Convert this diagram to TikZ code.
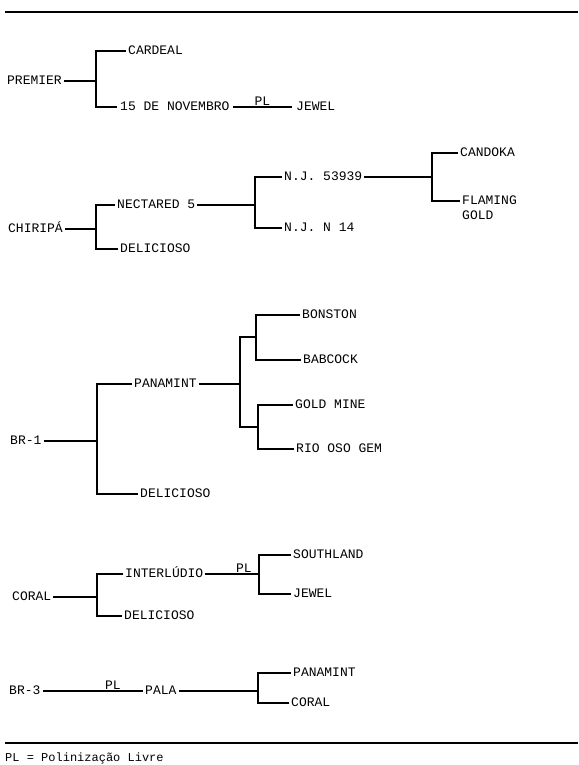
\documentclass[tikz,border=0pt]{standalone}
\usepackage{fontspec}
\setmainfont{Liberation Mono}
\begin{document}
\begin{tikzpicture}[x=1pt,y=-1pt,
  lbl/.style={anchor=west,inner xsep=2pt,inner ysep=0pt,text height=7.5pt,text depth=0pt,font=\fontsize{13}{15}\selectfont},
  pl/.style={anchor=south,inner sep=1pt,font=\fontsize{13}{15}\selectfont},
  ln/.style={line width=1.2pt}]
\useasboundingbox (0,0) rectangle (578,765);
% rules
\coordinate (tl) at (5,12); \coordinate (tr) at (578,12);
\coordinate (bl) at (5,743); \coordinate (br) at (578,743);
\draw[ln] (tl) -- (tr);
\draw[ln] (bl) -- (br);
\node[anchor=west,inner sep=0pt,font=\fontsize{12}{14}\selectfont] (foot) at (5,758) {PL = Polinização Livre};

% PREMIER
\node[lbl] (premier) at (5,81) {PREMIER};
\node[lbl] (cardeal) at (126,51) {CARDEAL};
\node[lbl,inner xsep=3pt] (nov) at (117,107) {15 DE NOVEMBRO};
\node[lbl,inner xsep=4pt] (jewelA) at (292,107) {JEWEL};
\coordinate (j1) at (96,81);
\draw[ln] (premier.east) -- (j1);
\draw[ln] (cardeal.west) -| (j1) |- (nov.west);
\draw[ln] (nov.east) -- node[pl,above]{PL} (jewelA.west);

% CHIRIPA
\node[lbl] (chiripa) at (6,229) {CHIRIPÁ};
\node[lbl] (nect) at (115,205) {NECTARED 5};
\node[lbl] (delA) at (118,249) {DELICIOSO};
\node[lbl] (njA) at (282,177) {N.J. 53939};
\node[lbl] (njB) at (282,228) {N.J. N 14};
\node[lbl] (candoka) at (458,153) {CANDOKA};
\node[lbl] (flaming) at (460,201) {FLAMING};
\node[lbl] (gold) at (460,216) {GOLD};
\coordinate (j2) at (96,229);
\coordinate (j3) at (255,205);
\coordinate (j4) at (432,177);
\draw[ln] (chiripa.east) -- (j2);
\draw[ln] (nect.west) -| (j2) |- (delA.west);
\draw[ln] (nect.east) -- (j3);
\draw[ln] (njA.west) -| (j3) |- (njB.west);
\draw[ln] (njA.east) -- (j4);
\draw[ln] (candoka.west) -| (j4) |- (flaming.west);

% BR-1
\node[lbl] (brA) at (8,441) {BR-1};
\node[lbl] (panA) at (132,384) {PANAMINT};
\node[lbl] (delB) at (138,494) {DELICIOSO};
\node[lbl] (bonston) at (300,315) {BONSTON};
\node[lbl] (babcock) at (301,360) {BABCOCK};
\node[lbl] (goldmine) at (293,405) {GOLD MINE};
\node[lbl] (rio) at (294,449) {RIO OSO GEM};
\coordinate (j5) at (97,441);
\coordinate (j6) at (240,384);
\coordinate (j7) at (256,337);
\coordinate (j8) at (258,427);
\draw[ln] (brA.east) -- (j5);
\draw[ln] (panA.west) -| (j5) |- (delB.west);
\draw[ln] (panA.east) -- (j6);
\draw[ln] (j7) -| (j6) |- (j8);
\draw[ln] (bonston.west) -| (j7) |- (babcock.west);
\draw[ln] (goldmine.west) -| (j8) |- (rio.west);

% CORAL
\node[lbl] (coral) at (10,597) {CORAL};
\node[lbl] (inter) at (123,574) {INTERLÚDIO};
\node[lbl] (delC) at (122,616) {DELICIOSO};
\node[lbl] (south) at (291,555) {SOUTHLAND};
\node[lbl] (jewelB) at (291,594) {JEWEL};
\coordinate (j9) at (97,597);
\coordinate (j10) at (259,574);
\draw[ln] (coral.east) -- (j9);
\draw[ln] (inter.west) -| (j9) |- (delC.west);
\draw[ln] (inter.east) -- node[pl,above,pos=0.72]{PL} (j10);
\draw[ln] (south.west) -| (j10) |- (jewelB.west);

% BR-3
\node[lbl] (brB) at (7,691) {BR-3};
\node[lbl] (pala) at (143,691) {PALA};
\node[lbl] (panB) at (291,673) {PANAMINT};
\node[lbl] (coralB) at (289,703) {CORAL};
\coordinate (j11) at (258,691);
\draw[ln] (brB.east) -- node[pl,above,pos=0.7]{PL} (pala.west);
\draw[ln] (pala.east) -- (j11);
\draw[ln] (panB.west) -| (j11) |- (coralB.west);
\end{tikzpicture}
\end{document}
